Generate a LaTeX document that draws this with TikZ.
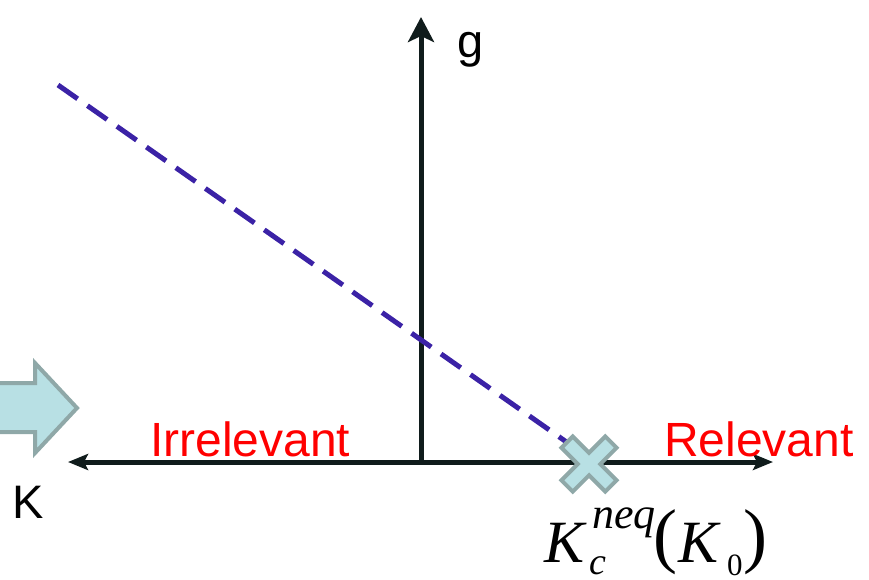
\documentclass[tikz,border=0pt]{standalone}
\usepackage{fontspec}
\setmainfont{Liberation Sans}
\newfontfamily\tms{Liberation Serif}
\usetikzlibrary{arrows.meta}
\definecolor{axiscol}{HTML}{101C1C}
\definecolor{dashcol}{HTML}{3B22A6}
\definecolor{cyanfill}{HTML}{B8E0E4}
\definecolor{graystroke}{HTML}{8FA8A8}
\tikzset{
  axis/.style={draw=axiscol, line width=5pt},
  dashline/.style={draw=dashcol, line width=5pt, dash pattern=on 24pt off 12pt},
  shapestyle/.style={draw=graystroke, fill=cyanfill, line width=4pt, line join=miter},
  redlabel/.style={text=red, font=\fontsize{48}{56}\selectfont, inner sep=0pt, anchor=base west},
  blacklabel/.style={text=black, font=\fontsize{47}{56}\selectfont, inner sep=0pt, anchor=base west},
  mathpart/.style={text=black, inner sep=0pt, anchor=base west},
}
\begin{document}
\begin{tikzpicture}[x=1pt,y=-1pt]
\useasboundingbox (0,0) rectangle (869,579);
% block arrow on the left
\path[shapestyle] (-10,383) -- (35,383) -- (35,363) -- (77,408) -- (35,453) -- (35,432) -- (-10,432) -- cycle;
% axes
\coordinate (O) at (421,462);
\coordinate (gtop) at (421,17);
\coordinate (kleft) at (68,462);
\coordinate (kright) at (773,462);
\draw[axis, -{Stealth[length=25pt, width=26pt, inset=6pt]}] (O) -- (gtop);
\draw[axis, {Stealth[length=20pt, width=16pt, inset=4pt]}-{Stealth[length=20pt, width=16pt, inset=4pt]}] (kleft) -- (kright);
% dashed line
\coordinate (dstart) at (58,85);
\coordinate (dend) at (585,455);
\draw[dashline] (dstart) -- (dend);
% cross
\begin{scope}[shift={(589,464)}, rotate=45]
\coordinate (X) at (0,0);
\path[shapestyle]
  (-8,-31) -- (8,-31) -- (8,-8) -- (31,-8) -- (31,8) -- (8,8) -- (8,31) -- (-8,31) -- (-8,8) -- (-31,8) -- (-31,-8) -- (-8,-8) -- cycle;
\end{scope}
% labels
\node[blacklabel] (glab) at (457,57) {g};
\node[blacklabel] (klab) at (12,518) {K};
\node[redlabel] (irr) at (150,456) {Irrelevant};
\node[redlabel] (rel) at (664,456) {Relevant};
% K_c^{neq}(K_0)
\node[mathpart, font=\fontsize{60}{70}\tms\itshape] (kc) at (544,562) {K};
\node[mathpart, font=\fontsize{44}{50}\tms\itshape] (kcsup) at (592,528) {neq};
\node[mathpart, font=\fontsize{38}{44}\tms\itshape] (kcsub) at (589,574) {c};
\node[mathpart, font=\fontsize{72}{84}\tms] (lpar) at (653,559) {(};
\node[mathpart, font=\fontsize{60}{70}\tms\itshape] (k0) at (678,562) {K};
\node[mathpart, font=\fontsize{31}{36}\tms] (k0sub) at (727,575) {0};
\node[mathpart, font=\fontsize{72}{84}\tms] (rpar) at (743,559) {)};
\end{tikzpicture}
\end{document}
